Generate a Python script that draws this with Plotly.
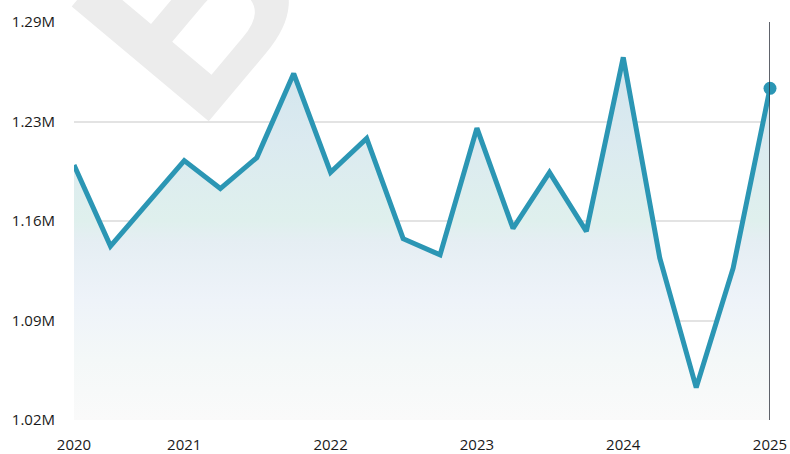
import plotly.graph_objects as go

# Quarterly dates (first point ~Q2 2020, last point Jan 2025)
dates = ["2020-04-01", "2020-07-01", "2020-10-01", "2021-01-01", "2021-04-01",
         "2021-07-01", "2021-10-01", "2022-01-01", "2022-04-01", "2022-07-01",
         "2022-10-01", "2023-01-01", "2023-04-01", "2023-07-01", "2023-10-01",
         "2024-01-01", "2024-04-01", "2024-07-01", "2024-10-01", "2025-01-01"]
# Values in millions
values = [1.193, 1.138, 1.167, 1.196, 1.177, 1.198, 1.255, 1.188, 1.211, 1.143,
          1.132, 1.218, 1.150, 1.188, 1.148, 1.266, 1.130, 1.042, 1.123, 1.245]

x_tickvals = ["2020-04-01", "2021-01-01", "2022-01-01", "2023-01-01", "2024-01-01", "2025-01-01"]
x_ticktext = ["2020", "2021", "2022", "2023", "2024", "2025"]
y_tickvals = [1.02, 1.0875, 1.155, 1.2225, 1.29]
y_ticktext = ["1.02M", "1.09M", "1.16M", "1.23M", "1.29M"]
y_min, y_max = 1.02, 1.29

LINE = "#2b96b4"

fig = go.Figure()
fig.add_trace(go.Scatter(
    x=dates, y=values, mode="lines",
    line=dict(color=LINE, width=5),
    fill="tozeroy",
    fillgradient=dict(
        type="vertical", start=y_min, stop=y_max,
        colorscale=[[0.0, "rgb(250,250,250)"], [0.15, "rgb(244,248,248)"],
                    [0.3, "rgb(238,243,249)"], [0.45, "rgb(229,238,243)"],
                    [0.5, "rgb(223,240,237)"], [0.7, "rgb(219,234,240)"],
                    [1.0, "rgb(206,227,236)"]],
    ),
    hoverinfo="skip", showlegend=False,
))
fig.add_trace(go.Scatter(
    x=[dates[-1]], y=[values[-1]], mode="markers",
    marker=dict(color=LINE, size=13),
    cliponaxis=False, showlegend=False, hoverinfo="skip",
))

fig.add_shape(type="line", xref="x", yref="paper",
              x0=dates[-1], x1=dates[-1], y0=0, y1=1,
              line=dict(color="#2b2f3a", width=1.5), layer="above")

# watermark
fig.add_annotation(text="<b>B</b>", xref="paper", yref="paper",
                   x=0.165, y=1.043, xanchor="center", yanchor="middle",
                   showarrow=False, textangle=-50,
                   font=dict(family="Liberation Sans", size=260, color="#ececec"))

fig.update_layout(
    width=790, height=454,
    margin=dict(l=74, r=20, t=22, b=34, autoexpand=False),
    paper_bgcolor="white", plot_bgcolor="white",
    font=dict(family="Open Sans", size=15, color="#1a1a1a"),
    xaxis=dict(range=[dates[0], dates[-1]], tickvals=x_tickvals, ticktext=x_ticktext,
               showgrid=False, zeroline=False, showline=False,
               ticks="", ticklabelstandoff=14, automargin=False,
               tickfont=dict(size=15, color="#1a1a1a")),
    yaxis=dict(range=[y_min, y_max], tickvals=y_tickvals, ticktext=y_ticktext,
               showgrid=True, gridcolor="#e3e3e3", gridwidth=1.5,
               zeroline=False, showline=False, ticks="", ticklabelstandoff=18,
               automargin=False,
               tickfont=dict(size=15, color="#1a1a1a")),
)

fig.write_html(
    "out.html",
    config={"displayModeBar": False},
    post_script="document.body.style.margin='0';document.body.style.overflow='hidden';",
)
